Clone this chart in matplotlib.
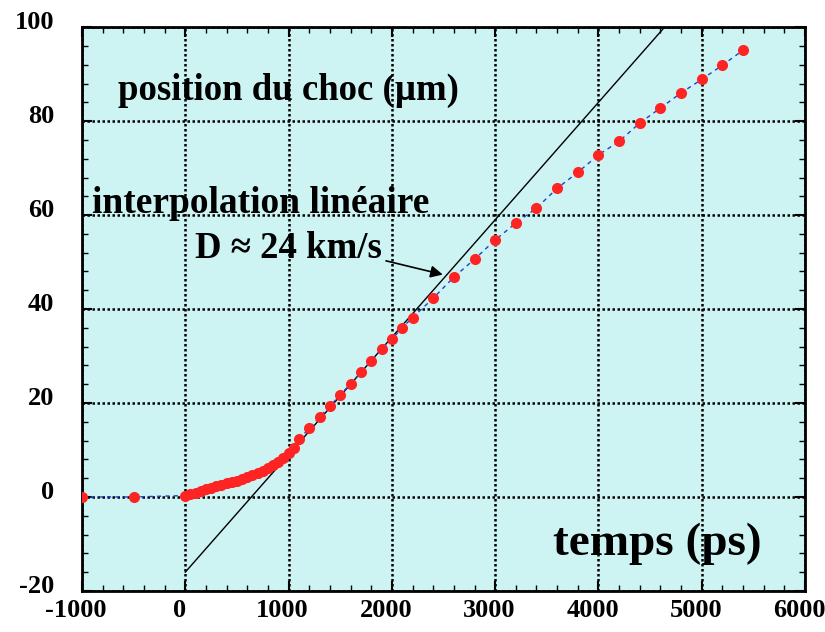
import matplotlib
matplotlib.use("Agg")
from matplotlib import pyplot as plt
from matplotlib.ticker import MultipleLocator
from matplotlib.transforms import ScaledTranslation

# shock position measurements (time in ps, position in micrometres)
temps = [-1000, -500,
         0, 50, 100, 150, 200, 250, 300, 350, 400, 450, 500, 550, 600, 650,
         700, 750, 800, 850, 900, 950, 1000, 1050,
         1100, 1200, 1300, 1400, 1500, 1600, 1700, 1800, 1900, 2000, 2100, 2200,
         2400, 2600, 2800, 3000, 3200, 3400, 3600, 3800, 4000, 4200, 4400,
         4600, 4800, 5000, 5200, 5400]
position = [0.0, 0.0,
            0.3, 0.6, 0.9, 1.3, 1.7, 2.0, 2.3, 2.6, 2.9, 3.2, 3.5, 3.9, 4.3, 4.7,
            5.1, 5.6, 6.1, 6.8, 7.5, 8.4, 9.4, 10.5,
            12.3, 14.6, 17.0, 19.3, 21.8, 24.0, 26.6, 29.0, 31.5, 33.6, 36.0, 38.2,
            42.3, 46.8, 50.6, 54.7, 58.3, 61.5, 65.7, 69.1, 72.8, 75.7, 79.6,
            82.8, 86.0, 88.9, 91.9, 95.1]

# linear fit (D ~ 24 km/s)
fit_t = [0, 4640]
fit_pos = [-16, 100]

xticks = [-1000, 0, 1000, 2000, 3000, 4000, 5000, 6000]
yticks = [-20, 0, 20, 40, 60, 80, 100]

plt.rcParams['font.family'] = ['Liberation Serif', 'DejaVu Serif']
plt.rcParams['font.weight'] = 'bold'
plt.rcParams['axes.unicode_minus'] = False

fig = plt.figure(figsize=(8.25, 6.32), dpi=100)
ax = fig.add_axes([0.0994, 0.065, 0.8764, 0.892])
ax.set_facecolor('#cdf3f3')

ax.plot(fit_t, fit_pos, color='black', linewidth=1.0, zorder=3)
ax.plot(temps, position, color='#2040d0', linestyle=(0, (3, 3)), linewidth=1.0, zorder=3)
ax.plot(temps, position, linestyle='none', marker='o', markersize=8,
        color='#ff2424', markeredgewidth=0, zorder=4)

ax.set_xlim(-1000, 6000)
ax.set_ylim(-20, 100)
ax.set_xticks(xticks)
ax.set_yticks(yticks)
ax.xaxis.set_minor_locator(MultipleLocator(200))
ax.yaxis.set_minor_locator(MultipleLocator(4))
ax.tick_params(which='both', direction='in', top=True, right=True)
ax.tick_params(which='major', length=7, width=1.5, labelsize=19)
ax.tick_params(axis='x', which='major', pad=6)
ax.tick_params(axis='y', which='major', pad=20)
ax.tick_params(which='minor', length=4, width=1.0)
for sp in ax.spines.values():
    sp.set_linewidth(2)

# labels in the original sit a little left / above their ticks
fig.canvas.draw()
shift_x = ScaledTranslation(-6 / 100, 0, fig.dpi_scale_trans)
shift_y = ScaledTranslation(0, 7 / 100, fig.dpi_scale_trans)
for lab in ax.get_xticklabels():
    lab.set_fontweight('bold')
    lab.set_transform(lab.get_transform() + shift_x)
for lab in ax.get_yticklabels():
    lab.set_fontweight('bold')
    lab.set_transform(lab.get_transform() + shift_y)

ax.grid(True, which='major', color='black', linestyle=(0, (1, 1)), linewidth=1.8, zorder=2)
ax.set_axisbelow(False)

ax.text(-651, 84.5, 'position du choc (µm)', fontsize=26.5, fontweight='bold',
        va='baseline', ha='left', zorder=1)
ax.text(-903, 60.4, 'interpolation linéaire', fontsize=27, fontweight='bold',
        va='baseline', ha='left', zorder=1)
ax.text(94, 50.9, 'D ≈ 24 km/s', fontsize=26.5, fontweight='bold',
        va='baseline', ha='left', zorder=1)
ax.annotate('', xy=(2519, 47.2), xytext=(1917, 50.4),
            arrowprops=dict(arrowstyle='-|>', color='black', lw=1.2,
                            mutation_scale=18))
ax.text(3560, -12.3, 'temps (ps)', fontsize=34, fontweight='bold',
        va='baseline', ha='left', zorder=1)

fig.savefig('out.png', dpi=100)
